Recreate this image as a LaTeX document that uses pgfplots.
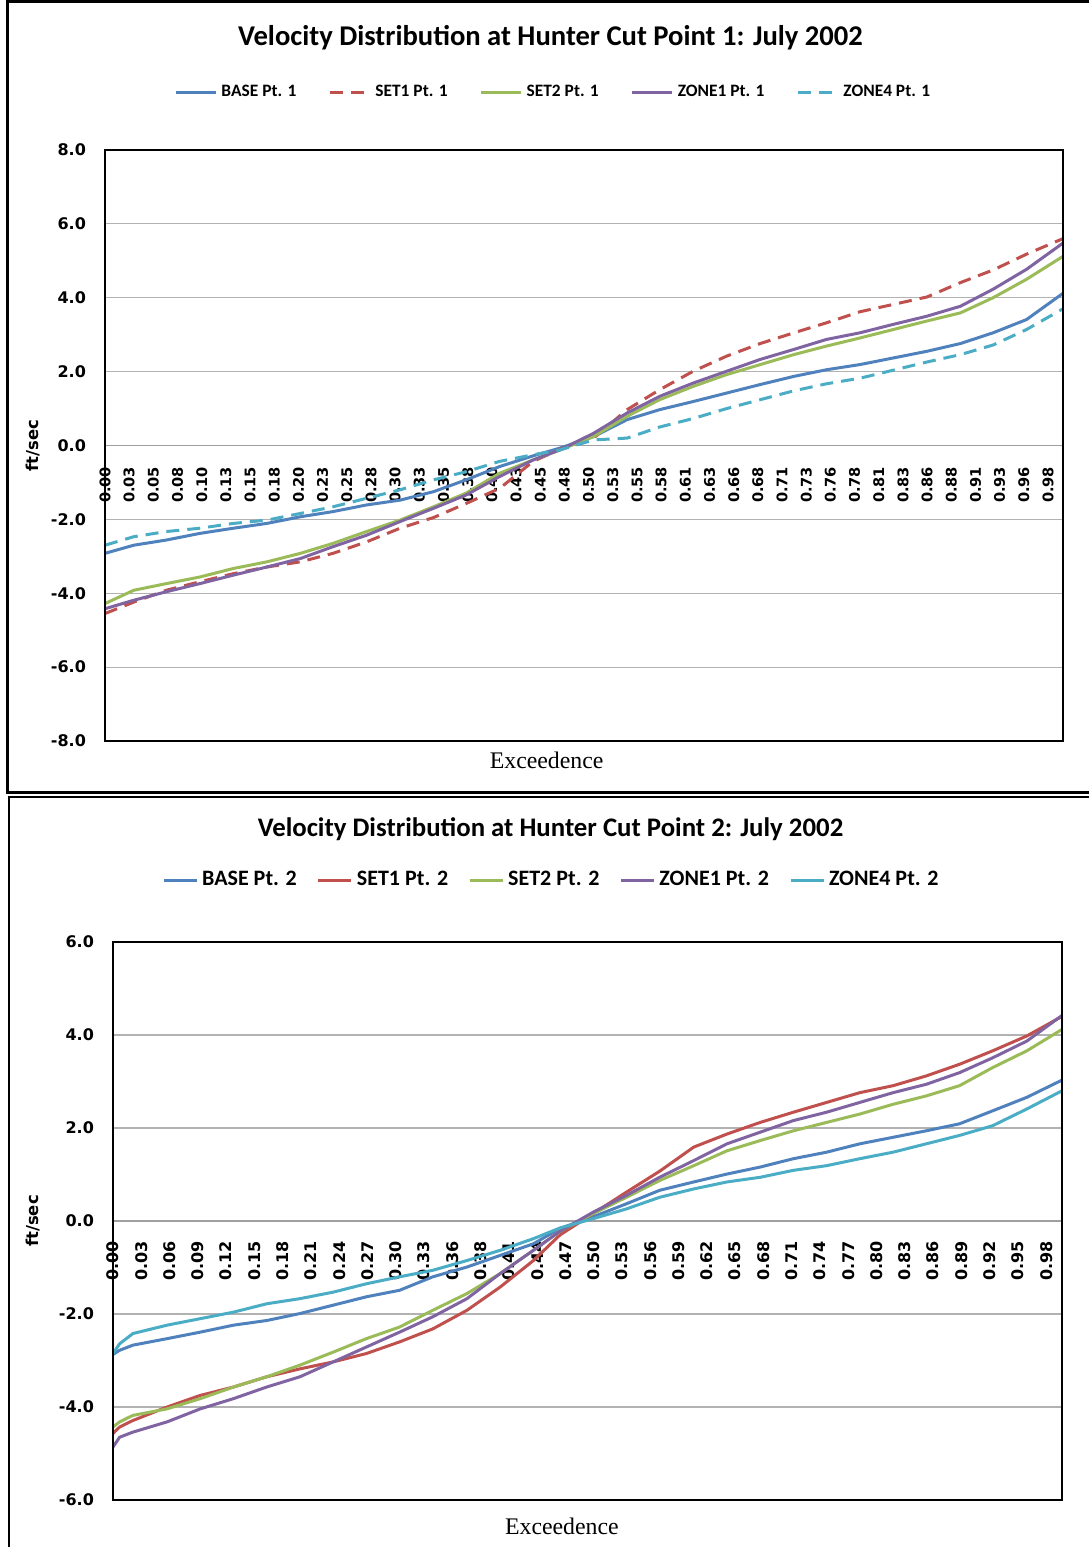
\documentclass[border=0pt]{standalone}
\usepackage{fontspec}
\setmainfont{Carlito}
\newfontfamily\dvb{DejaVu Sans}
\newfontfamily\tnr{Liberation Serif}
\usepackage{pgfplots}
\usepackage{pgfplotstable}
\pgfplotsset{compat=1.18}

\definecolor{cbase}{HTML}{4F81BD}
\definecolor{cset1}{HTML}{C0504D}
\definecolor{cset2}{HTML}{9BBB59}
\definecolor{czone1}{HTML}{8064A2}
\definecolor{czone4}{HTML}{4BACC6}

% exceedence vs velocity (ft/sec)
\pgfplotstableread{
e      base  set1  set2  zone1 zone4
0.000 -2.92 -4.55 -4.28 -4.42 -2.70
0.030 -2.70 -4.24 -3.92 -4.19 -2.47
0.064 -2.56 -3.92 -3.74 -3.96 -2.33
0.099 -2.38 -3.69 -3.56 -3.74 -2.24
0.134 -2.24 -3.47 -3.33 -3.51 -2.11
0.169 -2.11 -3.29 -3.15 -3.29 -2.02
0.204 -1.93 -3.15 -2.92 -3.06 -1.84
0.238 -1.79 -2.92 -2.65 -2.74 -1.66
0.273 -1.61 -2.61 -2.33 -2.43 -1.43
0.308 -1.48 -2.24 -2.02 -2.06 -1.20
0.343 -1.25 -1.95 -1.66 -1.70 -0.93
0.377 -0.93 -1.57 -1.29 -1.34 -0.71
0.412 -0.57 -1.16 -0.75 -0.84 -0.43
0.447 -0.28 -0.43 -0.39 -0.39 -0.25
0.475 -0.07 -0.10 -0.12 -0.12 -0.12
0.510  0.24  0.20  0.24  0.33  0.15
0.545  0.70  0.97  0.79  0.88  0.20
0.579  0.97  1.51  1.24  1.33  0.50
0.614  1.19  2.01  1.60  1.69  0.73
0.649  1.42  2.42  1.92  2.01  1.00
0.684  1.65  2.76  2.19  2.33  1.24
0.719  1.87  3.05  2.46  2.60  1.48
0.753  2.05  3.32  2.69  2.87  1.67
0.788  2.19  3.62  2.91  3.05  1.82
0.823  2.37  3.82  3.14  3.28  2.04
0.858  2.55  4.02  3.37  3.50  2.26
0.893  2.76  4.41  3.59  3.77  2.46
0.927  3.05  4.75  4.00  4.23  2.72
0.962  3.41  5.18  4.50  4.77  3.14
1.000  4.12  5.60  5.12  5.48  3.70
}\topdata

\pgfplotstableread{
e      base  set1  set2  zone1 zone4
0.000 -2.87 -4.57 -4.43 -4.86 -2.85
0.007 -2.78 -4.43 -4.32 -4.65 -2.64
0.021 -2.67 -4.29 -4.18 -4.54 -2.42
0.057 -2.53 -4.00 -4.04 -4.32 -2.24
0.092 -2.39 -3.75 -3.82 -4.04 -2.10
0.127 -2.24 -3.57 -3.57 -3.82 -1.96
0.162 -2.14 -3.35 -3.35 -3.57 -1.78
0.197 -1.99 -3.18 -3.10 -3.35 -1.67
0.232 -1.81 -3.03 -2.82 -3.03 -1.53
0.267 -1.63 -2.85 -2.53 -2.71 -1.35
0.302 -1.49 -2.60 -2.28 -2.39 -1.20
0.337 -1.20 -2.32 -1.92 -2.06 -1.06
0.373 -0.99 -1.92 -1.56 -1.67 -0.85
0.408 -0.74 -1.42 -1.13 -1.13 -0.63
0.443 -0.49 -0.85 -0.63 -0.63 -0.38
0.471 -0.16 -0.30 -0.22 -0.22 -0.15
0.506  0.09  0.16  0.16  0.19  0.05
0.541  0.37  0.62  0.51  0.55  0.26
0.576  0.66  1.07  0.87  0.94  0.51
0.612  0.84  1.59  1.19  1.30  0.69
0.647  1.01  1.87  1.51  1.66  0.84
0.682  1.16  2.12  1.73  1.91  0.94
0.717  1.34  2.34  1.94  2.16  1.09
0.752  1.48  2.55  2.12  2.34  1.19
0.787  1.66  2.76  2.30  2.55  1.34
0.822  1.80  2.91  2.51  2.76  1.48
0.857  1.94  3.12  2.69  2.94  1.66
0.892  2.09  3.37  2.91  3.19  1.84
0.927  2.37  3.66  3.30  3.51  2.05
0.963  2.66  3.98  3.66  3.87  2.41
1.000  3.03  4.40  4.12  4.42  2.80
}\botdata

\pgfplotsset{
  velo/.style={
    scale only axis,
    enlargelimits=false,
    xmin=0, xmax=1,
    axis x line=middle, axis y line=left,
    axis line style={-},
    x axis line style={draw=gray!75, line width=0.6pt},
    y axis line style={draw=black, line width=0.8pt},
    hide obscured x ticks=false, hide obscured y ticks=false,
    major tick length=0pt,
    ymajorgrids, grid style={gray!60, line width=0.6pt},
    yticklabel style={font=\dvb\bfseries\fontsize{8}{9}\selectfont,
      anchor=east, xshift=-6pt},
    every axis title/.style={anchor=center},
    every axis y label/.style={rotate=90, anchor=center,
      font=\dvb\bfseries\fontsize{8.2}{9}\selectfont},
    every axis x label/.style={anchor=center, font=\tnr\fontsize{11.9}{13}\selectfont},
    legend image code/.code={\draw[#1] (0pt,0pt) -- (20pt,0pt);},
    legend style={draw=none, fill=none, legend columns=-1,
      /tikz/every even column/.append style={column sep=14pt}},
    every axis plot/.append style={line width=1.5pt},
    after end axis/.code={\draw[black, line width=0.8pt]
      (rel axis cs:0,0) rectangle (rel axis cs:1,1);},
  },
  dashd/.style={dash pattern=on 6.5pt off 4pt},
}

\begin{document}
\begin{tikzpicture}
\useasboundingbox (0,0) rectangle (544pt,773.5pt);

% panel frames
\draw[black, line width=1.5pt] (3.5pt,772.5pt) rectangle (560pt,377pt);
\draw[black, line width=1pt] (4.5pt,375pt) rectangle (560pt,-2pt);

\begin{axis}[velo,
  at={(52.5pt,403pt)}, anchor=south west,
  width=479pt, height=295.5pt,
  ymin=-8, ymax=8, ytick={-8,-6,...,8},
  yticklabels={-8.0,-6.0,-4.0,-2.0,0.0,2.0,4.0,6.0,8.0},
  xtick={0,0.02524,...,0.99},
  xticklabels={0.00,0.03,0.05,0.08,0.10,0.13,0.15,0.18,0.20,0.23,0.25,0.28,0.30,0.33,0.35,0.38,0.40,0.43,0.45,0.48,0.50,0.53,0.55,0.58,0.61,0.63,0.66,0.68,0.71,0.73,0.76,0.78,0.81,0.83,0.86,0.88,0.91,0.93,0.96,0.98},
  xticklabel style={font=\dvb\bfseries\fontsize{7.3}{8}\selectfont,
    rotate=90, anchor=east, inner sep=0pt, xshift=-10.5pt},
  title={Velocity Distribution at Hunter Cut Point 1: July 2002},
  title style={at={(axis description cs:0.465,1.19)},
    font=\bfseries\fontsize{14.3}{16}\selectfont},
  xlabel={Exceedence},
  xlabel style={at={(axis description cs:0.461,-0.032)}},
  ylabel={ft/sec},
  ylabel style={at={(axis description cs:-0.075,0.5)}},
  legend style={at={(axis description cs:0.469,1.098)}, anchor=center,
    font=\bfseries\fontsize{8.7}{10}\selectfont},
]
\addplot[cbase] table[x=e,y=base] {\topdata};
\addplot[cset1, dashd] table[x=e,y=set1] {\topdata};
\addplot[cset2] table[x=e,y=set2] {\topdata};
\addplot[czone1] table[x=e,y=zone1] {\topdata};
\addplot[czone4, dashd] table[x=e,y=zone4] {\topdata};
\legend{BASE Pt. 1, SET1 Pt. 1, SET2 Pt. 1, ZONE1 Pt. 1, ZONE4 Pt. 1}
\end{axis}

\begin{axis}[velo,
  at={(56.5pt,23.5pt)}, anchor=south west,
  width=474.5pt, height=279pt,
  ymin=-6, ymax=6, ytick={-6,-4,...,6},
  yticklabels={-6.0,-4.0,-2.0,0.0,2.0,4.0,6.0},
  xtick={0,0.0298,...,0.99},
  xticklabels={0.00,0.03,0.06,0.09,0.12,0.15,0.18,0.21,0.24,0.27,0.30,0.33,0.36,0.38,0.41,0.44,0.47,0.50,0.53,0.56,0.59,0.62,0.65,0.68,0.71,0.74,0.77,0.80,0.83,0.86,0.89,0.92,0.95,0.98},
  xticklabel style={font=\dvb\bfseries\fontsize{8}{9}\selectfont,
    rotate=90, anchor=east, inner sep=0pt, xshift=-10pt},
  title={Velocity Distribution at Hunter Cut Point 2: July 2002},
  title style={at={(axis description cs:0.461,1.2025)},
    font=\bfseries\fontsize{13.4}{15}\selectfont},
  xlabel={Exceedence},
  xlabel style={at={(axis description cs:0.473,-0.048)}},
  ylabel={ft/sec},
  ylabel style={at={(axis description cs:-0.084,0.5)}},
  legend image code/.code={\draw[#1] (0pt,0pt) -- (16.5pt,0pt);},
  legend style={at={(axis description cs:0.463,1.111)}, anchor=center,
    font=\bfseries\fontsize{11}{13}\selectfont,
    /tikz/every even column/.append style={column sep=8pt}},
]
\addplot[cbase] table[x=e,y=base] {\botdata};
\addplot[cset1] table[x=e,y=set1] {\botdata};
\addplot[cset2] table[x=e,y=set2] {\botdata};
\addplot[czone1] table[x=e,y=zone1] {\botdata};
\addplot[czone4] table[x=e,y=zone4] {\botdata};
\legend{BASE Pt. 2, SET1 Pt. 2, SET2 Pt. 2, ZONE1 Pt. 2, ZONE4 Pt. 2}
\end{axis}
\end{tikzpicture}
\end{document}
